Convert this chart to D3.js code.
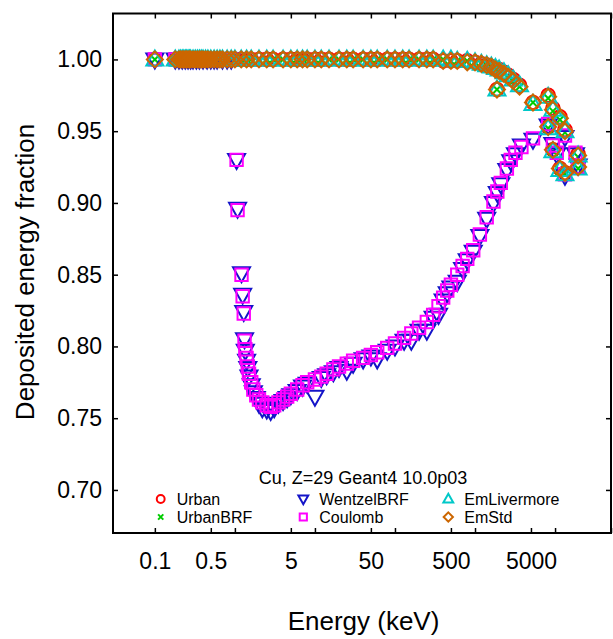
<!DOCTYPE html>
<html>
<head>
<meta charset="utf-8">
<script src="https://cdn.jsdelivr.net/npm/d3@7"></script>
<style>
  html, body { margin: 0; padding: 0; background: #ffffff; }
  svg { display: block; font-family: "Liberation Sans", Arial, Helvetica, sans-serif; }
</style>
</head>
<body>
<div id="chart"></div>
<script>
// ---------------- DATA ----------------
// Energies (keV) for the "upper" group (Urban, UrbanBRF, EmLivermore, EmStd)
const energiesHi = [0.1, 0.18, 0.2, 0.21, 0.22, 0.23, 0.24, 0.25, 0.26, 0.27,
  0.28, 0.3, 0.32, 0.34, 0.36, 0.38, 0.4, 0.43, 0.46, 0.5,
  0.55, 0.6, 0.65, 0.7, 0.8, 0.9, 1, 1.2, 1.4, 1.6,
  2, 2.5, 3, 4, 5, 6, 7, 8, 10, 12,
  15, 20, 25, 30, 40, 50, 60, 80, 100, 125,
  150, 200, 250, 300, 400, 500, 600, 800, 1000, 1200,
  1400, 1600, 1800, 1880, 2000, 2300, 2600, 3000, 3600, 5300,
  8200, 8200, 9400, 9400, 11500, 11500, 13300, 13300, 19400, 19400];

const urban = [1, 1, 1, 1, 1, 1, 1, 1, 1, 1,
  1, 1, 1, 1, 1, 1, 1, 1, 1, 1,
  1, 1, 1, 1, 1, 1, 1, 1, 1, 1,
  1, 1, 1, 1, 1, 1, 1, 1, 1, 1,
  1, 1, 1, 1, 1, 1, 1, 1, 1, 1,
  1, 1, 1, 1, 0.999, 0.999, 0.999, 0.999, 0.998, 0.997,
  0.996, 0.995, 0.994, 0.979, 0.993, 0.991, 0.989, 0.986, 0.982, 0.970,
  0.975, 0.953, 0.966, 0.937, 0.960, 0.924, 0.951, 0.921, 0.934, 0.925];

const urbanBRF = [1, 1, 1, 1, 1, 1, 1, 1, 1, 1,
  1, 1, 1, 1, 1, 1, 1, 1, 1, 1,
  1, 1, 1, 1, 1, 1, 1, 1, 1, 1,
  1, 1, 1, 1, 1, 1, 1, 1, 1, 1,
  1, 1, 1, 1, 1, 1, 1, 1, 1, 1,
  1, 1, 1, 1, 1, 0.999, 0.999, 0.999, 0.998, 0.997,
  0.996, 0.995, 0.993, 0.979, 0.992, 0.990, 0.988, 0.985, 0.981, 0.970,
  0.973, 0.952, 0.964, 0.936, 0.958, 0.923, 0.949, 0.920, 0.932, 0.924];

const emLivermore = [1, 1, 1, 1, 1, 1, 1, 1, 1, 1,
  1, 1, 1, 1, 1, 1, 1, 1, 1, 1,
  1, 1, 1, 1, 1, 1, 1, 1, 1, 1,
  1, 1, 1, 1, 1, 1, 1, 1, 1, 1,
  1, 1, 1, 1, 1, 1, 1, 1, 1, 1,
  1, 1, 1, 1, 1, 1, 0.999, 0.999, 0.998, 0.997,
  0.996, 0.995, 0.994, 0.979, 0.993, 0.991, 0.989, 0.986, 0.982, 0.969,
  0.974, 0.952, 0.965, 0.936, 0.959, 0.923, 0.950, 0.920, 0.933, 0.924];

const emStd = [1, 1, 1, 1, 1, 1, 1, 1, 1, 1,
  1, 1, 1, 1, 1, 1, 1, 1, 1, 1,
  1, 1, 1, 1, 1, 1, 1, 1, 1, 1,
  1, 1, 1, 1, 1, 1, 1, 1, 1, 1,
  1, 1, 1, 1, 1, 1, 1, 1, 1, 1,
  1, 1, 1, 1, 0.999, 0.999, 0.999, 0.998, 0.998, 0.997,
  0.996, 0.995, 0.993, 0.979, 0.992, 0.990, 0.988, 0.985, 0.981, 0.970,
  0.974, 0.953, 0.965, 0.937, 0.959, 0.924, 0.950, 0.921, 0.933, 0.925];

// Energies (keV) for the "lower" group (WentzelBRF, Coulomb)
const energiesLo = [0.1, 0.18, 0.2, 0.22, 0.24, 0.26, 0.28, 0.3, 0.33, 0.36,
  0.4, 0.45, 0.5, 0.55, 0.6, 0.7, 0.8, 0.9, 1.05, 1.08,
  1.21, 1.25, 1.29, 1.32, 1.35, 1.4, 1.45, 1.5, 1.6, 1.7,
  1.85, 2.0, 2.2, 2.5, 2.8, 3.1, 3.5, 4.0, 4.5, 5.0,
  6, 7, 8, 10, 12, 14, 17, 20, 25, 30,
  40, 50, 60, 80, 100, 130, 160, 200, 250, 300,
  350, 400, 450, 500, 600, 700, 800, 950, 1150, 1400,
  1700, 1900, 2100, 2500, 2800, 3200, 3800, 5300, 8200, 9400,
  10500, 13300, 13300, 18000, 19400];

const wentzelBRF = [1, 1, 1, 1, 1, 1, 1, 1, 1, 1,
  1, 1, 1, 1, 1, 1, 1, 1, 0.930, 0.896,
  0.851, 0.836, 0.824, 0.805, 0.797, 0.790, 0.785, 0.779, 0.773, 0.768,
  0.764, 0.760, 0.757, 0.756, 0.755, 0.757, 0.760, 0.762, 0.764, 0.766,
  0.769, 0.772, 0.774, 0.765, 0.778, 0.780, 0.782, 0.785, 0.783, 0.788,
  0.791, 0.793, 0.791, 0.797, 0.800, 0.804, 0.804, 0.811, 0.811, 0.820,
  0.822, 0.832, 0.837, 0.841, 0.845, 0.854, 0.860, 0.866, 0.877, 0.889,
  0.900, 0.907, 0.913, 0.923, 0.929, 0.934, 0.940, 0.944, 0.954, 0.941,
  0.934, 0.946, 0.919, 0.934, 0.926];

const coulomb = [1, 1, 1, 1, 1, 1, 1, 1, 1, 1,
  1, 1, 1, 1, 1, 1, 1, 1, 0.930, 0.895,
  0.850, 0.835, 0.823, 0.804, 0.798, 0.792, 0.786, 0.781, 0.775, 0.770,
  0.766, 0.763, 0.761, 0.759, 0.758, 0.759, 0.761, 0.763, 0.765, 0.767,
  0.770, 0.773, 0.775, 0.777, 0.779, 0.781, 0.784, 0.786, 0.788, 0.790,
  0.792, 0.794, 0.796, 0.799, 0.802, 0.806, 0.809, 0.813, 0.817, 0.822,
  0.828, 0.834, 0.839, 0.843, 0.850, 0.856, 0.861, 0.867, 0.878, 0.890,
  0.901, 0.908, 0.914, 0.924, 0.930, 0.935, 0.939, 0.945, 0.955, 0.940,
  0.935, 0.947, 0.920, 0.935, 0.925];

const seriesNames = ["Urban", "UrbanBRF", "WentzelBRF", "Coulomb", "EmLivermore", "EmStd"];
const seriesColors = ["#ff0000", "#00cc00", "#1414c8", "#ff00ff", "#00c8c8", "#cc6600"];
const seriesShapes = ["circle", "cross", "triangleDown", "square", "triangleUp", "diamond"];

const xTickValues = [0.1, 0.5, 1, 5, 10, 50, 100, 500, 1000, 5000, 10000, 50000];
const xTickLabels = ["0.1", "0.5", "", "5", "", "50", "", "500", "", "5000", "", ""];
const yTickValues = [0.70, 0.75, 0.80, 0.85, 0.90, 0.95, 1.00];

const legendTitle = "Cu, Z=29 Geant4 10.0p03";
const xTitle = "Energy (keV)";
const yTitle = "Deposited energy fraction";

// ---------------- CHART ----------------
const W = 613, H = 639;
const L = 113, R = 611, T = 13.5, B = 533;

const svg = d3.select("#chart").append("svg")
  .attr("width", W).attr("height", H);
svg.append("rect").attr("width", W).attr("height", H).attr("fill", "#fff");

const x = d3.scaleLog().domain([0.03, 50000]).range([L, R]);
const y = d3.scaleLinear().domain([0.67, 1.032]).range([B, T]);

// marker path generator
function markerPath(shape, s) {
  switch (shape) {
    case "cross":
      return `M${-4.5*s},${-4.5*s}L${4.5*s},${4.5*s}M${-4.5*s},${4.5*s}L${4.5*s},${-4.5*s}`;
    case "triangleDown":
      return `M${-8.5*s},${-6*s}L${8.5*s},${-6*s}L0,${9*s}Z`;
    case "triangleUp":
      return `M${-8.5*s},${6*s}L${8.5*s},${6*s}L0,${-9*s}Z`;
    case "square":
      return `M${-6.2*s},${-6.2*s}H${6.2*s}V${6.2*s}H${-6.2*s}Z`;
    case "diamond":
      return `M0,${-8*s}L${8*s},0L0,${8*s}L${-8*s},0Z`;
    default: {
      const r = 6.8 * s;
      return `M${r},0A${r},${r} 0 1,1 ${-r},0A${r},${r} 0 1,1 ${r},0Z`;
    }
  }
}

const seriesData = [
  { e: energiesHi, v: urban },
  { e: energiesHi, v: urbanBRF },
  { e: energiesLo, v: wentzelBRF },
  { e: energiesLo, v: coulomb },
  { e: energiesHi, v: emLivermore },
  { e: energiesHi, v: emStd }
];

const plot = svg.append("g");
seriesData.forEach((sd, i) => {
  const pts = sd.e.map((e, j) => ({ e, v: sd.v[j] }));
  plot.append("g").selectAll("path").data(pts).join("path")
    .attr("transform", d => `translate(${x(d.e)},${y(d.v)})`)
    .attr("d", markerPath(seriesShapes[i], 1))
    .attr("fill", "none")
    .attr("stroke", seriesColors[i])
    .attr("stroke-width", 2);
});

// axes
const axB = svg.append("g").attr("transform", `translate(0,${B})`)
  .call(d3.axisBottom(x).tickValues(xTickValues).tickSize(-5).tickSizeOuter(0)
    .tickPadding(20).tickFormat((d, i) => xTickLabels[i]));
const axT = svg.append("g").attr("transform", `translate(0,${T})`)
  .call(d3.axisTop(x).tickValues(xTickValues).tickSize(-5).tickSizeOuter(0).tickFormat(""));
const axL = svg.append("g").attr("transform", `translate(${L},0)`)
  .call(d3.axisLeft(y).tickValues(yTickValues).tickSize(-5).tickSizeOuter(0)
    .tickPadding(11).tickFormat(d3.format(".2f")));
const axR = svg.append("g").attr("transform", `translate(${R},0)`)
  .call(d3.axisRight(y).tickValues(yTickValues).tickSize(-5).tickSizeOuter(0).tickFormat(""));

[axB, axT, axL, axR].forEach(a => {
  a.select(".domain").remove();
  a.selectAll(".tick line").attr("stroke", "#000").attr("stroke-width", 1.5);
  a.selectAll(".tick text").attr("fill", "#000")
    .style("font-size", "23px").style("font-family", "Liberation Sans, Arial, sans-serif");
});

// frame
svg.append("rect").attr("x", L).attr("y", T).attr("width", R - L).attr("height", B - T)
  .attr("fill", "none").attr("stroke", "#000").attr("stroke-width", 2);

// axis titles
svg.append("text").attr("x", 363.5).attr("y", 630).attr("text-anchor", "middle")
  .style("font-size", "26px").attr("fill", "#000").text(xTitle);
svg.append("text").attr("transform", "translate(34,272) rotate(-90)")
  .attr("text-anchor", "middle").style("font-size", "26px").attr("fill", "#000").text(yTitle);

// legend
const lg = svg.append("g");
lg.append("text").attr("x", 363).attr("y", 484).attr("text-anchor", "middle")
  .style("font-size", "18px").attr("fill", "#000").text(legendTitle);
const legCols = [160.7, 160.7, 303.3, 303.3, 448.3, 448.3];
const legRows = [505, 523, 505, 523, 505, 523];
seriesNames.forEach((name, i) => {
  const my = legRows[i] - 6;
  lg.append("path").attr("transform", `translate(${legCols[i]},${my})`)
    .attr("d", markerPath(seriesShapes[i], 0.58))
    .attr("fill", "none").attr("stroke", seriesColors[i]).attr("stroke-width", 2);
  lg.append("text").attr("x", legCols[i] + 16).attr("y", legRows[i])
    .style("font-size", "16px").attr("fill", "#000").text(name);
});
</script>
</body>
</html>
